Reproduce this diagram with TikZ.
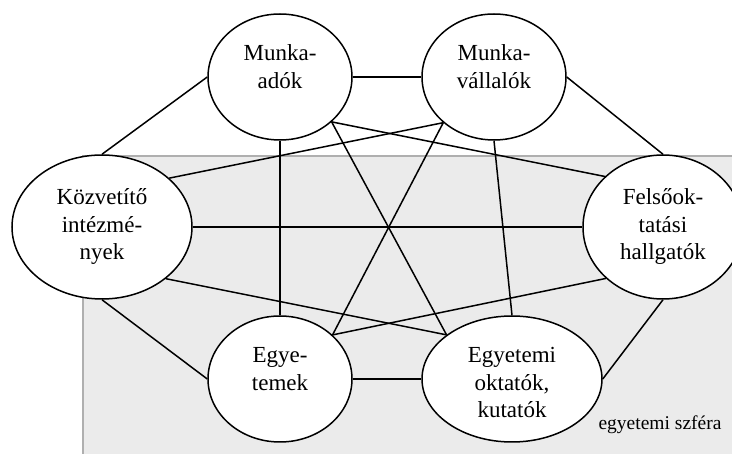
\documentclass[tikz,border=0pt]{standalone}
\usepackage{fontspec}
\setmainfont{Liberation Serif}
\usetikzlibrary{shapes.geometric}
\definecolor{spherefill}{RGB}{235,235,235}
\definecolor{sphereedge}{RGB}{175,175,175}
\begin{document}
\begin{tikzpicture}[x=1pt,y=-1pt,
  actor/.style={ellipse, draw=black, line width=1.5pt, fill=white, inner sep=0pt},
  small/.style={actor, minimum width=144pt, minimum height=126pt},
  actortext/.style={align=center, font=\fontsize{23}{27.5}\selectfont, inner sep=0pt},
  link/.style={line width=1.5pt}]
\useasboundingbox (0,0) rectangle (732,454);
\clip (0,0) rectangle (732,454);
\fill[white] (0,0) rectangle (732,454);
% the university sphere
\draw[sphereedge, fill=spherefill, line width=1.5pt] (83,156) rectangle (760,480);

% actors
\node[small] (MA) at (280,77) {};
\node[small] (MV) at (494,77) {};
\node[actor, minimum width=180pt, minimum height=144pt] (K) at (102,227) {};
\node[actor, minimum width=160pt, minimum height=144pt] (F) at (663,227) {};
\node[small] (E) at (280,379) {};
\node[actor, minimum width=180pt, minimum height=126pt] (EO) at (512,379) {};

% labels of the actors
\node[actortext] (MAt) at (280,83) {\strut Munka-\\\strut adók\\\strut};
\node[actortext] (MVt) at (494,83) {\strut Munka-\\\strut vállalók\\\strut};
\node[actortext] (Kt) at (102,227) {\strut Közvetítő\\\strut intézmé-\\\strut nyek};
\node[actortext] (Ft) at (663,227) {\strut Felsőok-\\\strut tatási\\\strut hallgatók};
\node[actortext] (Et) at (280,385) {\strut Egye-\\\strut temek\\\strut};
\node[actortext] (EOt) at (512,385) {\strut Egyetemi\\\strut oktatók,\\\strut kutatók};

\node[font=\fontsize{19.5}{23}\selectfont, anchor=base] (sph) at (660,430) {egyetemi szféra};

% every actor is linked to every other one
\draw[link] (MA.east) -- (MV.west);
\draw[link] (MA.west) -- (K.north);
\draw[link] (MA.south) -- (E.north);
\draw[link] (MA.-41) -- (EO.146);
\draw[link] (MA.-41) -- (F.139);
\draw[link] (MV.-138) -- (K.36);
\draw[link] (MV.-138) -- (E.40);
\draw[link] (MV.south) -- (EO.north);
\draw[link] (MV.east) -- (F.north);
\draw[link] (K.east) -- (F.west);
\draw[link] (K.-39) -- (EO.146);
\draw[link] (K.south) -- (E.west);
\draw[link] (E.east) -- (EO.west);
\draw[link] (E.40) -- (F.-138);
\draw[link] (EO.east) -- (F.south);
\end{tikzpicture}
\end{document}
